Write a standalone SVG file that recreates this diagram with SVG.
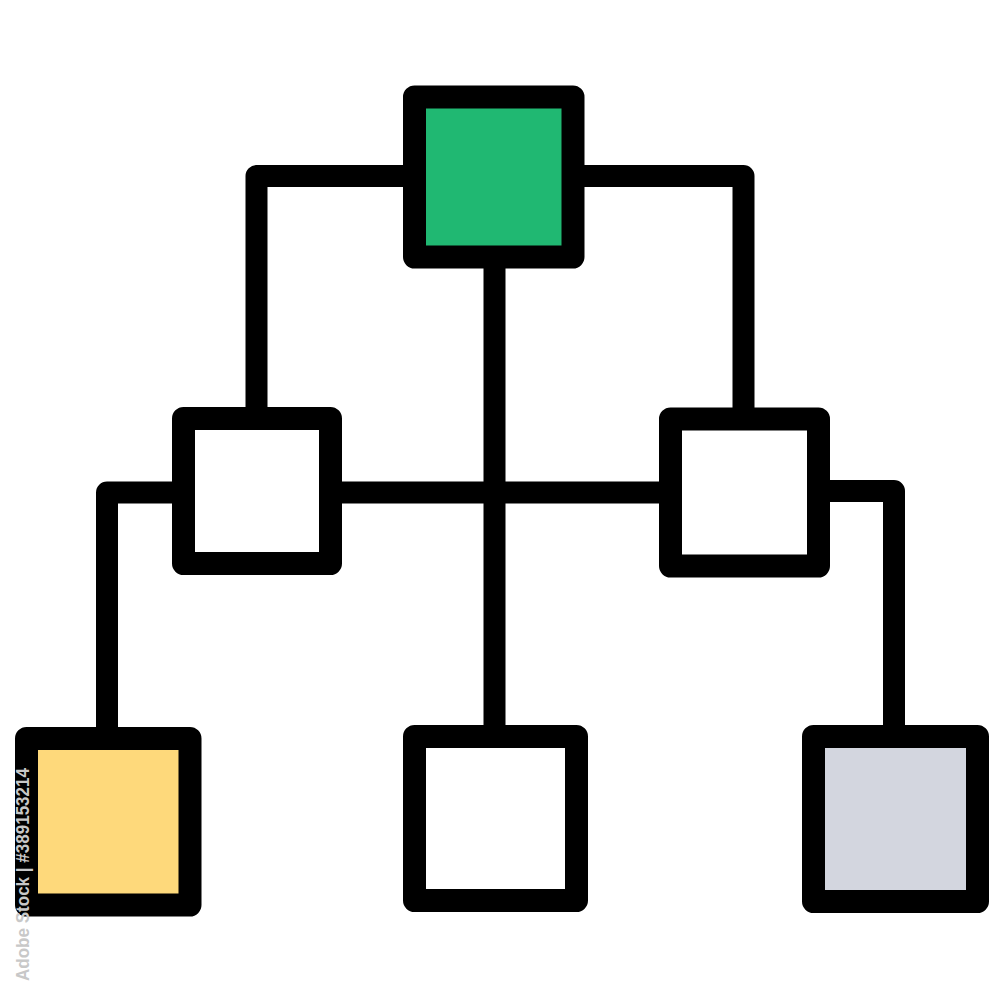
<svg xmlns="http://www.w3.org/2000/svg" width="1000" height="1000" viewBox="0 0 1000 1000">
  <style>
    .box { stroke: #000; stroke-width: 23; stroke-linejoin: round; }
    .wire { fill: none; stroke: #000; stroke-width: 22; stroke-linejoin: round; stroke-linecap: butt; }
    .wm { font-family: "Liberation Sans", Arial, sans-serif; font-size: 19px; font-weight: bold; fill: #c8c8c8; }
  </style>
  <rect width="1000" height="1000" fill="#fff"/>
  <g id="connectors">
    <path class="wire" d="M 414 176 H 256.5 V 419"/>
    <path class="wire" d="M 573 176 H 743.5 V 420"/>
    <path class="wire" d="M 494.5 257 V 737"/>
    <path class="wire" d="M 330 492.5 H 671"/>
    <path class="wire" d="M 184 492.5 H 107 V 739"/>
    <path class="wire" d="M 818 491 H 894 V 737"/>
  </g>
  <g id="node-top">
    <rect class="box" x="414.5" y="97" width="158.5" height="160" fill="#20B872"/>
  </g>
  <g id="node-mid-left">
    <rect class="box" x="183.5" y="418.5" width="147" height="145" fill="#fff"/>
  </g>
  <g id="node-mid-right">
    <rect class="box" x="670.5" y="419" width="148" height="147" fill="#fff"/>
  </g>
  <g id="node-bottom-left">
    <rect class="box" x="26.5" y="738.5" width="163.5" height="166.5" fill="#FED97B"/>
  </g>
  <g id="node-bottom-middle">
    <rect class="box" x="414.5" y="736.5" width="162" height="164" fill="#fff"/>
  </g>
  <g id="node-bottom-right">
    <rect class="box" x="813.5" y="736.5" width="164" height="165" fill="#D3D6DF"/>
  </g>
  <text class="wm" transform="translate(29,981) rotate(-90)" textLength="213" lengthAdjust="spacingAndGlyphs">Adobe Stock | #389153214</text>
</svg>
